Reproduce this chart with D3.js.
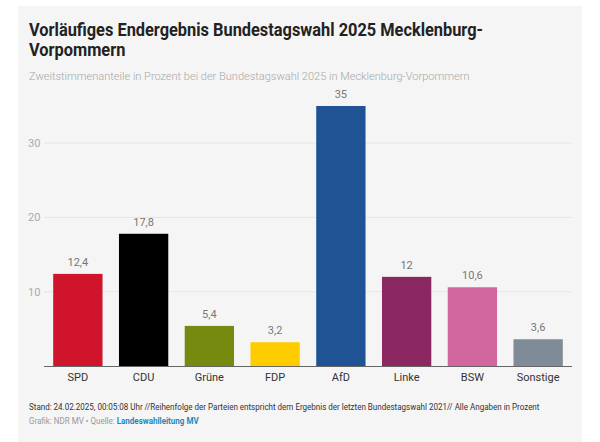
<!DOCTYPE html>
<html><head><meta charset="utf-8">
<script src="https://cdn.jsdelivr.net/npm/d3@7"></script>
<style>
html,body{margin:0;padding:0;background:#fff;}
svg{display:block;font-family:Roboto,"Noto Sans",sans-serif;}
</style></head>
<body>
<svg id="chart" width="600" height="442"></svg>
<script>
const categories = ["SPD","CDU","Grüne","FDP","AfD","Linke","BSW","Sonstige"];
const values = [12.4,17.8,5.4,3.2,35,12,10.6,3.6];
const colors = ["#d0142b","#000000","#768a0f","#ffcc00","#1f5394","#8b2862","#d2669f","#7f8c97"];
const yTicks = [10,20,30];
const title1 = "Vorläufiges Endergebnis Bundestagswahl 2025 Mecklenburg-";
const title2 = "Vorpommern";
const subtitle = "Zweitstimmenanteile in Prozent bei der Bundestagswahl 2025 in Mecklenburg-Vorpommern";
const note = "Stand: 24.02.2025, 00:05:08 Uhr //Reihenfolge der Parteien entspricht dem Ergebnis der letzten Bundestagswahl 2021// Alle Angaben in Prozent";

const svg = d3.select("#chart");
svg.append("rect").attr("x",18).attr("y",6).attr("width",564).attr("height",436).attr("fill","#f5f5f5");

const t1 = svg.append("text").attr("x",29).attr("y",36).attr("font-size",18).attr("font-weight",700).attr("fill","#222").text(title1);
const t2 = svg.append("text").attr("x",29).attr("y",56).attr("font-size",18).attr("font-weight",700).attr("fill","#222").text(title2);
const w1 = t1.node().getComputedTextLength();
const k = 454 / w1;
t1.attr("textLength",454).attr("lengthAdjust","spacingAndGlyphs");
t2.attr("textLength",t2.node().getComputedTextLength()*k).attr("lengthAdjust","spacingAndGlyphs");

const st = svg.append("text").attr("x",29).attr("y",80).attr("font-size",12).attr("font-weight",300).attr("fill","#a8a8a8").text(subtitle);
st.attr("font-size", 12 * 441 / st.node().getComputedTextLength());

const x = d3.scaleBand().domain(categories).range([44,572]).paddingInner(0.25).paddingOuter(0.14);
const y = d3.scaleLinear().domain([0,35]).range([366,106]);

const g = svg.append("g");
g.selectAll("line.grid").data(yTicks).join("line").attr("class","grid")
  .attr("x1",44).attr("x2",572).attr("y1",d=>y(d)).attr("y2",d=>y(d))
  .attr("stroke","#e6e6e6").attr("stroke-width",1);
g.selectAll("text.yl").data(yTicks).join("text").attr("class","yl")
  .attr("x",28).attr("y",d=>y(d)+4).attr("font-size",11).attr("fill","#aaa").text(d=>d);

g.selectAll("rect.bar").data(values).join("rect").attr("class","bar")
  .attr("x",(d,i)=>x(categories[i])).attr("width",x.bandwidth())
  .attr("y",d=>y(d)).attr("height",d=>y(0)-y(d)).attr("fill",(d,i)=>colors[i]);

const fmt = d => String(d).replace(".",",");
g.selectAll("text.val").data(values).join("text").attr("class","val")
  .attr("x",(d,i)=>x(categories[i])+x.bandwidth()/2).attr("y",d=>y(d)-8)
  .attr("text-anchor","middle").attr("font-size",11).attr("fill","#777").text(fmt);

g.append("line").attr("x1",44).attr("x2",572).attr("y1",y(0)+0.5).attr("y2",y(0)+0.5).attr("stroke","#666").attr("stroke-width",1);
g.selectAll("text.xl").data(categories).join("text").attr("class","xl")
  .attr("x",d=>x(d)+x.bandwidth()/2).attr("y",381).attr("text-anchor","middle")
  .attr("font-size",11).attr("fill","#333").text(d=>d);

const ng = svg.append("g").attr("transform","translate(29,410)");
const nt = ng.append("text").attr("x",0).attr("y",0).attr("font-size",9.5).attr("fill","#333").text(note);
const sx = 511 / nt.node().getComputedTextLength();
ng.attr("transform",`translate(29,410) scale(${sx},1)`);
const sg = svg.append("g").attr("transform",`translate(29,424) scale(${sx},1)`);
const src = sg.append("text").attr("x",0).attr("y",0).attr("font-size",9.5);
src.append("tspan").attr("fill","#999").text("Grafik: NDR MV • Quelle: ");
src.append("tspan").attr("fill","#1a8ac0").attr("font-weight",700).text("Landeswahlleitung MV");
</script>
</body></html>
